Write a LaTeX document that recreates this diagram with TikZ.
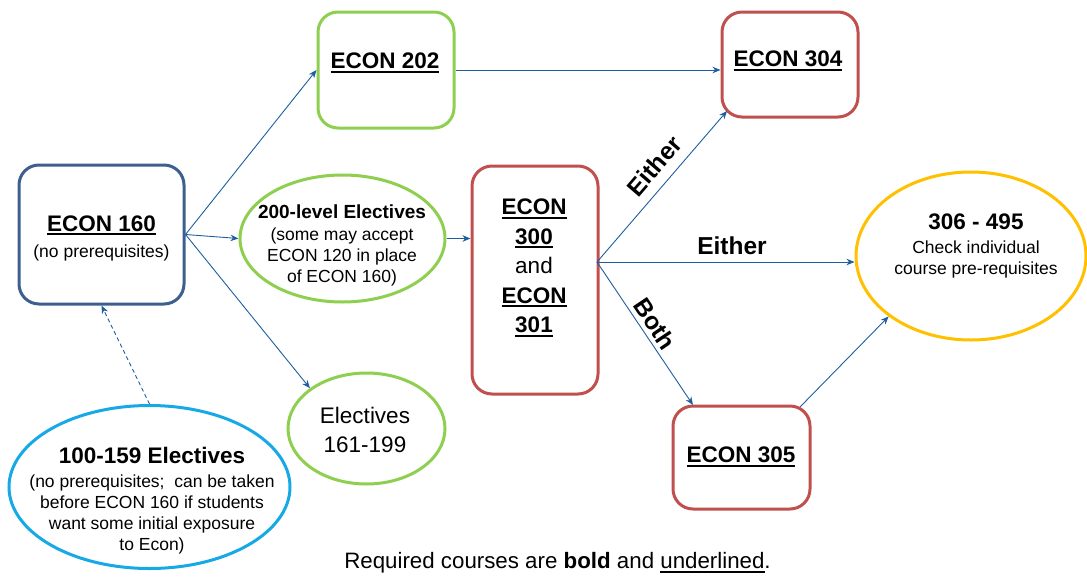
\documentclass[tikz,border=0pt]{standalone}
\usepackage{fontspec}
\setmainfont{Liberation Sans}
\usetikzlibrary{arrows.meta,shapes.geometric}
\definecolor{navyb}{HTML}{3C5F8E}
\definecolor{grnb}{HTML}{8FCF50}
\definecolor{redb}{HTML}{C0504D}
\definecolor{yelb}{HTML}{FFC000}
\definecolor{skyb}{HTML}{17A9E6}
\definecolor{arrc}{HTML}{1E5E9E}
\newcommand\ulb[1]{\setbox0\hbox{#1}\rlap{\vrule width\wd0 height -2.2pt depth 4.2pt}\box0}
\newcommand\ulthin[1]{\setbox0\hbox{#1}\rlap{\vrule width\wd0 height -2.6pt depth 4pt}\box0}
\newcommand\hd{\fontsize{22.5}{29.5}\selectfont}
\newcommand\sm{\fontsize{17.5}{21}\selectfont}
\begin{document}
\begin{tikzpicture}[x=1pt,y=-1pt,
  rbox/.style={draw, line width=3pt, rounded corners=20pt, inner sep=0pt, fill=white},
  ebox/.style={draw, ellipse, line width=3pt, inner sep=0pt, fill=white},
  txt/.style={align=center, inner sep=0pt},
  conn/.style={draw=arrc, line width=0.9pt, -{Stealth[length=8pt,width=6.5pt,inset=2.5pt]}},
  lab/.style={font=\bfseries\fontsize{24.5}{28}\selectfont, inner sep=0pt}]
\useasboundingbox (0,0) rectangle (1087,576);

% shapes
\node[rbox, draw=navyb, minimum width=165pt, minimum height=139pt] (e160) at (101.5,234.5) {};
\node[rbox, draw=grnb, minimum width=136pt, minimum height=116pt] (e202) at (386,70) {};
\node[rbox, draw=redb, minimum width=136pt, minimum height=105pt] (e304) at (790,64.5) {};
\node[rbox, draw=redb, minimum width=126pt, minimum height=228pt] (e300) at (535,280) {};
\node[rbox, draw=redb, minimum width=137pt, minimum height=103pt] (e305) at (741.5,457.5) {};
\node[ebox, draw=grnb, minimum width=205pt, minimum height=127pt] (el200) at (342.5,238.5) {};
\node[ebox, draw=grnb, minimum width=157pt, minimum height=111pt] (el161) at (366.5,428.5) {};
\node[ebox, draw=yelb, minimum width=230pt, minimum height=168pt] (el306) at (971,256) {};
\node[ebox, draw=skyb, minimum width=281pt, minimum height=163pt] (el100) at (149.5,487) {};

% texts
\node[txt, font=\sm] (t160) at (101.5,238) {{\hd\bfseries\ulb{ECON 160}}\\[5pt](no prerequisites)};
\node[txt, font=\hd\bfseries] (t202) at (385,63) {\ulb{ECON 202}};
\node[txt, font=\hd\bfseries] (t304) at (788,61) {\ulb{ECON 304}};
\node[txt, font=\hd\bfseries] (t305) at (741,457) {\ulb{ECON 305}};
\node[txt, font=\hd] (t300) at (534,268) {\bfseries\ulb{ECON}\\\bfseries\ulb{300}\\and\\\bfseries\ulb{ECON}\\\bfseries\ulb{301}};
\node[txt, font=\sm] (t200) at (342,245) {{\fontsize{19}{22}\selectfont\bfseries 200-level Electives}\\[1pt](some may accept\\ECON 120 in place\\of ECON 160)};
\node[txt, font=\hd] (t161) at (365,430) {Electives\\161-199};
\node[txt, font=\sm] (t306) at (976,246) {{\hd\bfseries 306 - 495}\\[3pt]Check individual\\course pre-requisites};
\node[txt, font=\sm] (t100) at (152,500.5) {{\hd\bfseries 100-159 Electives}\\[3pt](no prerequisites;\ \ can be taken\\before ECON 160 if students\\want some initial exposure\\to Econ)};
\node[txt, font=\fontsize{22.3}{26}\selectfont] (cap) at (557.5,563) {Required courses are \textbf{bold} and \ulthin{underlined}.};

% connectors
\coordinate (o300) at (597,262);
\coordinate (i304) at (727,111);
\coordinate (i305) at (693,405);
\coordinate (o305) at (800,407);
\draw[conn] (e160.east) -- (e202.west);
\draw[conn] (e160.east) -- (el200.west);
\draw[conn] (e160.east) -- (el161.north west);
\draw[conn, dashed, dash pattern=on 4pt off 3pt] (el100.north) -- (e160.south);
\draw[conn] (el200.east) -- (el200.east -| e300.west);
\draw[conn] (e202.east) -- (e202.east -| e304.west);
\draw[conn] (o300) -- (i304);
\draw[conn] (o300) -- (o300 -| el306.west);
\draw[conn] (o300) -- (i305);
\draw[conn] (o305) -- (el306.south west);

% connector labels
\node[lab, rotate=49.3] (lEither1) at (654,166) {Either};
\node[lab] (lEither2) at (732,246) {Either};
\node[lab, rotate=-56] (lBoth) at (655,324) {Both};
\end{tikzpicture}
\end{document}
